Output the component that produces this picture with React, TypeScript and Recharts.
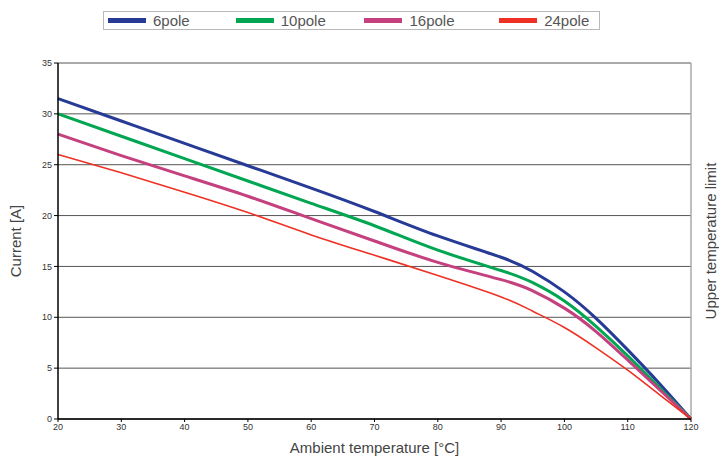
import React from 'react';
import { LineChart, Line, XAxis, YAxis, CartesianGrid, ReferenceLine, Legend, Label } from 'recharts';

const temps = [20, 30, 40, 50, 60, 70, 80, 90, 95, 100, 105, 110, 115, 120];
const pole6 = [31.5, 29.3, 27.1, 24.9, 22.7, 20.4, 18.0, 15.9, 14.5, 12.5, 9.9, 6.8, 3.5, 0];
const pole10 = [30.0, 27.8, 25.6, 23.4, 21.2, 19.0, 16.6, 14.6, 13.4, 11.6, 9.1, 6.2, 3.1, 0];
const pole16 = [28.0, 25.9, 23.9, 21.9, 19.7, 17.5, 15.4, 13.7, 12.6, 10.9, 8.6, 5.8, 2.9, 0];
const pole24 = [26.0, 24.2, 22.3, 20.3, 18.1, 16.1, 14.1, 12.0, 10.6, 9.0, 7.0, 4.8, 2.4, 0];
const xTicks = [20, 30, 40, 50, 60, 70, 80, 90, 100, 110, 120];
const yTicks = [0, 5, 10, 15, 20, 25, 30, 35];

const series = [
  { key: 'p6', name: '6pole', values: pole6, color: '#263a96', width: 3 },
  { key: 'p10', name: '10pole', values: pole10, color: '#00a651', width: 3 },
  { key: 'p16', name: '16pole', values: pole16, color: '#c4407e', width: 3 },
  { key: 'p24', name: '24pole', values: pole24, color: '#ee3124', width: 1.6 },
];

const data = temps.map((t, i) => {
  const row: any = { t };
  series.forEach((s) => (row[s.key] = s.values[i]));
  return row;
});

const itemWidths = [128, 129, 135, 100];
const font = 'Liberation Sans, Arial, sans-serif';

const LegendBox = () => (
  <div
    style={{
      position: 'absolute',
      left: 103,
      top: 11,
      width: 495,
      height: 17,
      border: '1px solid #b8b8b8',
      display: 'flex',
      alignItems: 'center',
      fontFamily: font,
      fontSize: 15,
      color: '#555',
    }}
  >
    {series.map((s, i) => (
      <div key={s.key} style={{ display: 'flex', alignItems: 'center', width: itemWidths[i], marginLeft: i === 0 ? 4 : 0 }}>
        <div style={{ width: 38, height: 5, background: s.color, marginRight: 7 }} />
        <span>{s.name}</span>
      </div>
    ))}
  </div>
);

export default function App() {
  return (
    <div style={{ position: 'absolute', left: 0, top: 0, width: 719, height: 458, background: '#fff' }}>
      <LineChart width={719} height={458} data={data} margin={{ top: 63, right: 28, bottom: 0, left: 0 }}>
        <CartesianGrid vertical={false} stroke="#555" strokeWidth={1} />
        <XAxis
          dataKey="t"
          type="number"
          domain={[20, 120]}
          ticks={xTicks}
          height={39}
          tick={{ fontSize: 9, fill: '#333', fontFamily: font }}
          tickSize={3}
          axisLine={{ stroke: '#000', strokeWidth: 1.5 }}
          tickLine={{ stroke: '#000' }}
        >
          <Label
            value="Ambient temperature [°C]"
            position="insideBottom"
            offset={5}
            style={{ fontSize: 15, fill: '#444', fontFamily: font }}
          />
        </XAxis>
        <YAxis
          type="number"
          domain={[0, 35]}
          ticks={yTicks}
          width={58}
          tick={{ fontSize: 9, fill: '#333', fontFamily: font }}
          tickSize={4}
          axisLine={{ stroke: '#000', strokeWidth: 1.5 }}
          tickLine={{ stroke: '#000' }}
        >
          <Label
            value="Current [A]"
            angle={-90}
            position="insideLeft"
            offset={16}
            style={{ fontSize: 15, fill: '#444', fontFamily: font, textAnchor: 'middle' }}
          />
        </YAxis>
        <ReferenceLine x={120} stroke="#aaa" strokeWidth={1.5}>
          <Label
            value="Upper temperature limit"
            angle={-90}
            position="right"
            offset={20}
            style={{ fontSize: 15, fill: '#444', fontFamily: font, textAnchor: 'middle' }}
          />
        </ReferenceLine>
        <Legend content={() => null} />
        {series.map((s) => (
          <Line
            key={s.key}
            dataKey={s.key}
            name={s.name}
            type="natural"
            stroke={s.color}
            strokeWidth={s.width}
            dot={false}
            isAnimationActive={false}
          />
        ))}
      </LineChart>
      <LegendBox />
    </div>
  );
}
